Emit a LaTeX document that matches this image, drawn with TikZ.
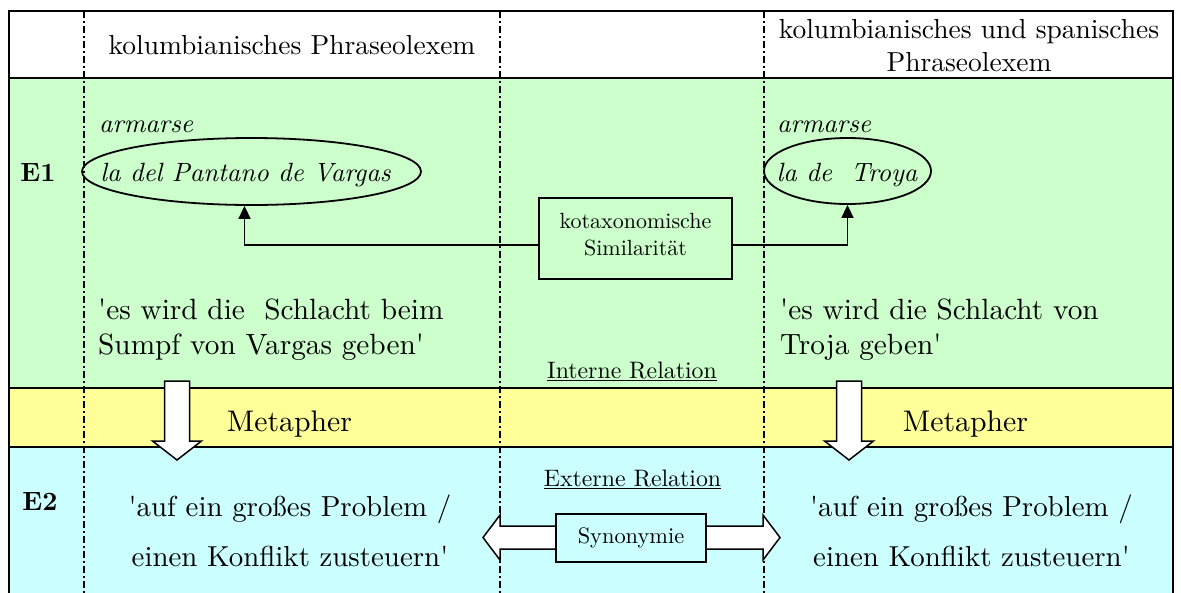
\documentclass[tikz,border=0pt]{standalone}
\usepackage{fontspec}
% Latin Modern at its 10pt design size, without TeX quote ligatures
\newfontfamily\lmr{lmroman10}[Extension=.otf,UprightFont=*-regular,BoldFont=*-bold,ItalicFont=*-italic,BoldItalicFont=*-bolditalic]
\usetikzlibrary{arrows.meta,shapes.geometric}
\definecolor{rowgreen}{HTML}{CCFFCC}
\definecolor{rowyellow}{HTML}{FFFF99}
\definecolor{rowcyan}{HTML}{CCFFFF}
\newcommand{\lmsize}[2]{\lmr\fontsize{#1}{#2}\selectfont}

\begin{document}
\begin{tikzpicture}[x=1pt,y=-1pt,
  tablerule/.style={line width=2pt},
  colrule/.style={line width=1.4pt,dash pattern=on 7pt off 3pt on 2pt off 3pt},
  hdr/.style={font=\lmsize{27.5}{33},align=center,inner sep=0pt},
  rowlabel/.style={font=\lmsize{26.4}{30}\bfseries,inner sep=0pt},
  lexem/.style={font=\lmsize{26.4}{30}\itshape,inner sep=0pt},
  lexring/.style={ellipse,draw,line width=1.8pt,inner sep=0pt},
  gloss/.style={font=\lmsize{29.3}{35},align=left,inner sep=0pt},
  sense/.style={font=\lmsize{28.9}{50},align=center,inner sep=0pt},
  relbox/.style={draw,line width=2.5pt,inner sep=0pt},
  rellabel/.style={font=\lmsize{23.8}{28},inner sep=0pt},
  metlabel/.style={font=\lmsize{29.8}{35},inner sep=0pt},
  conn/.style={line width=1.6pt,-{Triangle[length=13pt,width=12pt]}},
  blockshape/.style={draw,fill=white,line width=1.5pt,line join=miter},
  downarrow/.pic={\path[blockshape] (-12.5,-79) -- (12.5,-79) -- (12.5,-19) -- (24.5,-19) -- (0,0) -- (-24.5,-19) -- (-12.5,-19) -- cycle;}
]
\useasboundingbox (0,0) rectangle (1181,592);
\clip (0,0) rectangle (1181,592);

% row backgrounds
\fill[white] (9,11) rectangle (1173,78);
\fill[rowgreen] (9,78) rectangle (1173,388);
\fill[rowyellow] (9,388) rectangle (1173,447);
\fill[rowcyan] (9,447) rectangle (1173,600);

% column guides and table rules
\foreach \x in {84,500,764} \draw[colrule] (\x,11) -- (\x,600);
\draw[tablerule] (9,600) -- (9,11) -- (1173,11) -- (1173,600);
\foreach \y in {78,388,447} \draw[tablerule] (9,\y) -- (1173,\y);

% header
\node[hdr] (hdrL) at (292,45) {kolumbianisches Phraseolexem};
\node[hdr] (hdrR) at (969,45.5) {kolumbianisches und spanisches\\Phraseolexem};

% row labels
\node[rowlabel] (eOne) at (38,173) {E1};
\node[rowlabel] (eTwo) at (40,502) {E2};

% lexemes with their rings
\node[lexem,anchor=west] (armL) at (99,127) {armarse};
\node[lexring,minimum width=339pt,minimum height=67pt] (ellL) at (251.5,171.5) {};
\node[lexem] (lexL) at (245.5,175.5) {la del Pantano de Vargas};
\node[lexem,anchor=west] (armR) at (777,127) {armarse};
\node[lexring,minimum width=167pt,minimum height=66pt] (ellR) at (847.5,171) {};
\node[lexem] (lexR) at (847,175.5) {la de\ \ Troya};

% internal relation
\node[relbox,minimum width=193pt,minimum height=81pt,align=center,font=\lmsize{22}{27}] (simbox) at (635.5,238.5) {kotaxonomische\\Similarität\rule[-8pt]{0pt}{8pt}};
\draw[conn] ([yshift=-6.5pt]simbox.west) -| ([xshift=-7pt]ellL.south);
\draw[conn] ([yshift=-6.5pt]simbox.east) -| (ellR.south);

\node[gloss,anchor=west] (glossL) at (98,329.5) {'es wird die\ \ Schlacht beim\\Sumpf von Vargas geben'};
\node[gloss,anchor=west] (glossR) at (780,329.5) {'es wird die Schlacht von\\Troja geben'};
\node[rellabel,anchor=base] (intrel) at (632,378) {\underline{Interne Relation}};

% metaphor step
\pic at (177,460) {downarrow};
\pic at (849,460) {downarrow};
\node[metlabel] (metL) at (289.5,424) {Metapher};
\node[metlabel] (metR) at (965.5,424) {Metapher};

% external relation
\node[rellabel,anchor=base] (extrel) at (632.5,486) {\underline{Externe Relation}};
\path[blockshape] (483,537.5) -- (500,515) -- (500,526) -- (763,526) -- (763,515) -- (780,537.5) -- (763,560) -- (763,549) -- (500,549) -- (500,560) -- cycle;
\node[relbox,fill=rowcyan,minimum width=150pt,minimum height=48pt,font=\lmsize{22.4}{27}] (synbox) at (631,538) {Synonymie};

\node[sense] (senseL) at (290,531) {'auf ein großes Problem /\\einen Konflikt zusteuern'};
\node[sense] (senseR) at (971.5,531) {'auf ein großes Problem /\\einen Konflikt zusteuern'};
\end{tikzpicture}
\end{document}
